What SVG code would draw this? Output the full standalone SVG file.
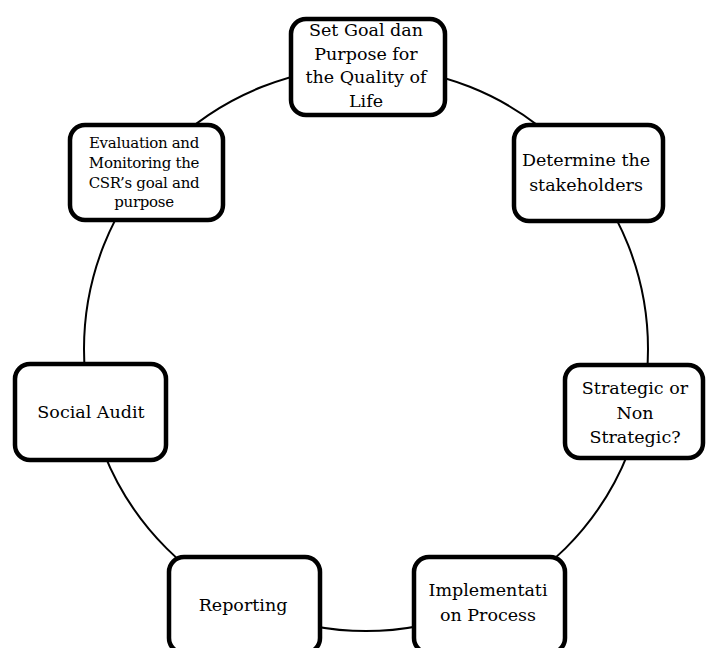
<svg xmlns="http://www.w3.org/2000/svg" width="707" height="648" viewBox="0 0 707 648">
<style>
.box{fill:#fff;stroke:#000;stroke-width:4.5}
.lbl{font-family:"DejaVu Serif","Liberation Serif",serif;font-size:17.5px;fill:#000;text-anchor:middle}
.sm{font-size:15px;letter-spacing:-0.3px}
.conn{fill:none;stroke:#000;stroke-width:2}
</style>
<rect width="707" height="648" fill="#fff"/>
<g id="connectors">
<circle class="conn" cx="366" cy="349" r="282"/>
</g>
<g id="node-goal">
<rect class="box" x="291" y="19" width="154" height="96" rx="15"/>
<text class="lbl" x="366" y="36">Set Goal dan</text>
<text class="lbl" x="366" y="60">Purpose for</text>
<text class="lbl" x="366" y="83">the Quality of</text>
<text class="lbl" x="366" y="107">Life</text>
</g>
<g id="node-stakeholders">
<rect class="box" x="514" y="125" width="149" height="96" rx="15"/>
<text class="lbl" x="586" y="166">Determine the</text>
<text class="lbl" x="586" y="191">stakeholders</text>
</g>
<g id="node-strategic">
<rect class="box" x="565" y="365" width="138" height="93" rx="15"/>
<text class="lbl" x="635" y="394">Strategic or</text>
<text class="lbl" x="635" y="419">Non</text>
<text class="lbl" x="635" y="443">Strategic?</text>
</g>
<g id="node-implementation">
<rect class="box" x="414" y="557" width="151" height="96" rx="15"/>
<text class="lbl" x="488" y="596">Implementati</text>
<text class="lbl" x="488" y="621">on Process</text>
</g>
<g id="node-reporting">
<rect class="box" x="169" y="557" width="151" height="96" rx="15"/>
<text class="lbl" x="243" y="611">Reporting</text>
</g>
<g id="node-audit">
<rect class="box" x="15" y="364" width="151" height="96" rx="15"/>
<text class="lbl" x="91" y="418">Social Audit</text>
</g>
<g id="node-evaluation">
<rect class="box" x="70" y="125" width="153" height="95" rx="15"/>
<text class="lbl sm" x="144" y="148">Evaluation and</text>
<text class="lbl sm" x="144" y="168">Monitoring the</text>
<text class="lbl sm" x="144" y="188">CSR’s goal and</text>
<text class="lbl sm" x="144" y="207">purpose</text>
</g>
</svg>
